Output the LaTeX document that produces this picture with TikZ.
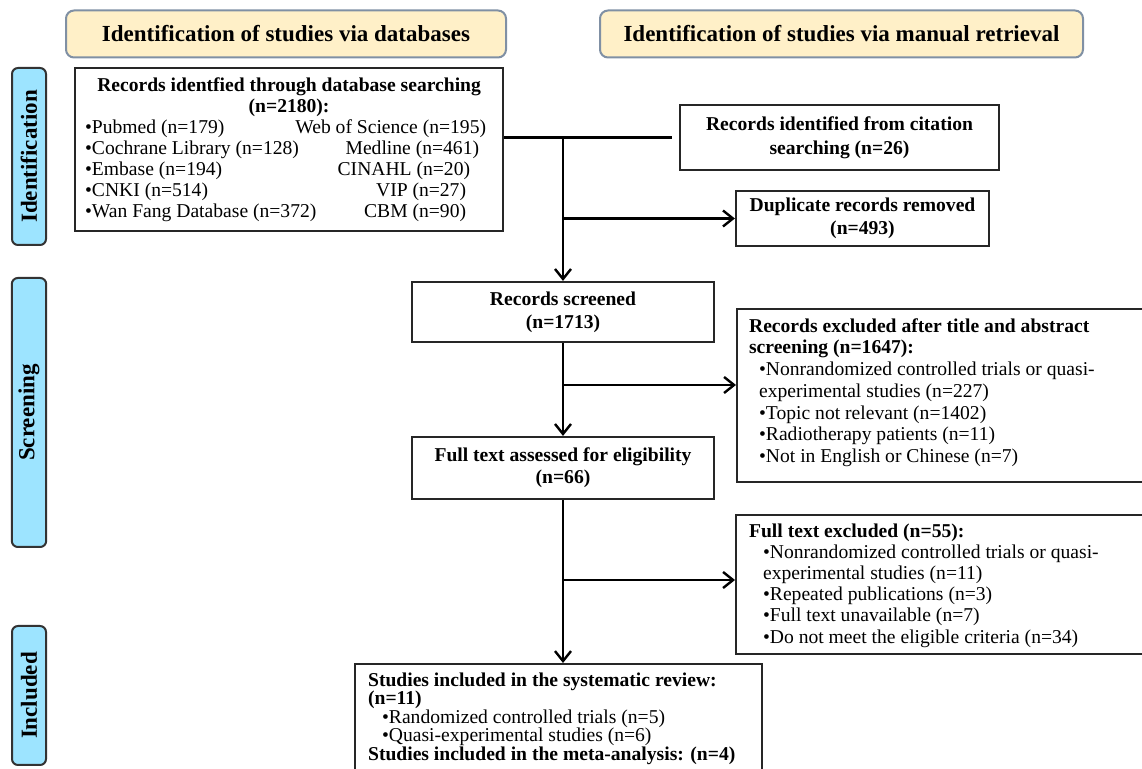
\documentclass[tikz,border=0pt]{standalone}
\usepackage{fontspec}
\setmainfont{Liberation Serif}
\usetikzlibrary{arrows.meta}

\definecolor{hdrfill}{HTML}{FFF0C8}
\definecolor{hdrline}{HTML}{8090A4}
\definecolor{phasefill}{HTML}{9DE4FF}

\begin{document}
\begin{tikzpicture}[x=0.5pt,y=-0.5pt,
  headbox/.style={draw=hdrline, fill=hdrfill, line width=1pt, rounded corners=4pt,
    font=\fontsize{11.5}{13}\selectfont\bfseries},
  phasebar/.style={draw=black!80, fill=phasefill, line width=1pt, rounded corners=3pt,
    rotate=90, minimum height=17pt, font=\fontsize{11.5}{13}\selectfont\bfseries},
  flowbox/.style={draw=black!85, line width=1.1pt},
  conn/.style={line width=1.2pt},
  arr/.style={conn, -{Straight Barb[length=5pt,width=8pt]}}]
\clip (0,0) rectangle (1142,769);
\useasboundingbox (0,0) rectangle (1142,769);

% column headers
\node[headbox, minimum width=220pt, minimum height=23.5pt] (hdrdb) at (286,34)
  {Identification of studies via databases};
\node[headbox, minimum width=241.5pt, minimum height=23.5pt] (hdrman) at (841.5,34)
  {Identification of studies via manual retrieval};

% phases
\node[phasebar, minimum width=88.5pt] (idph) at (29,156.5) {Identification};
\node[phasebar, minimum width=134.5pt] (scrph) at (29,412.5) {Screening};
\node[phasebar, minimum width=69.5pt] (incph) at (29,695.5) {Included};

% identification
\node[flowbox, anchor=north west, inner xsep=5pt, inner ysep=4.7pt] (dbrec) at (74,67)
  {\parbox[c][72.1pt][t]{204pt}{\fontsize{9.8}{10.5}\selectfont
   {\centering\bfseries Records identfied through database searching\\(n=2180):\par}
   •Pubmed (n=179)\hfill Web of Science (n=195)\hspace*{3.5pt}\\
   •Cochrane Library (n=128)\hfill Medline (n=461)\hspace*{7pt}\\
   •Embase (n=194)\hfill CINAHL (n=20)\hspace*{11.5pt}\\
   •CNKI (n=514)\hfill VIP (n=27)\hspace*{13.5pt}\\
   •Wan Fang Database (n=372)\hfill CBM (n=90)\hspace*{13.5pt}\par}};
\node[flowbox, minimum width=159.5pt, minimum height=32.5pt, align=center,
  font=\fontsize{9.8}{12}\selectfont\bfseries] (citrec) at (839.5,137.5)
  {Records identified from citation\\searching (n=26)};
\node[flowbox, minimum width=126.5pt, minimum height=27.5pt, align=center,
  font=\fontsize{9.8}{11.5}\selectfont\bfseries] (dupl) at (862.5,218.5)
  {Duplicate records removed\\(n=493)};

% screening
\node[flowbox, minimum width=151pt, minimum height=30pt, align=center,
  font=\fontsize{9.8}{11.5}\selectfont\bfseries] (screened) at (563,312)
  {Records screened\\(n=1713)};
\node[flowbox, anchor=north west, inner xsep=6pt, inner ysep=4.7pt] (excl1) at (736,308)
  {\parbox[c][77.1pt][t]{200pt}{\raggedright\fontsize{9.8}{10.85}\selectfont
   {\bfseries Records excluded after title and abstract\\screening (n=1647):}\\
   \hspace*{5pt}•Nonrandomized controlled trials or quasi-\\
   \hspace*{5pt}experimental studies (n=227)\\
   \hspace*{5pt}•Topic not relevant (n=1402)\\
   \hspace*{5pt}•Radiotherapy patients (n=11)\\
   \hspace*{5pt}•Not in English or Chinese (n=7)\par}};
\node[flowbox, minimum width=151pt, minimum height=31pt, align=center,
  font=\fontsize{9.8}{11}\selectfont\bfseries] (fulltext) at (563,468)
  {Full text assessed for eligibility\\(n=66)};
\node[flowbox, anchor=north west, inner xsep=6.5pt, inner ysep=4.2pt] (excl2) at (735,514)
  {\parbox[c][61.1pt][t]{200pt}{\raggedright\fontsize{9.8}{10.6}\selectfont
   {\bfseries Full text excluded (n=55):}\\
   \hspace*{7pt}•Nonrandomized controlled trials or quasi-\\
   \hspace*{7pt}experimental studies (n=11)\\
   \hspace*{7pt}•Repeated publications (n=3)\\
   \hspace*{7pt}•Full text unavailable (n=7)\\
   \hspace*{7pt}•Do not meet the eligible criteria (n=34)\par}};

% included
\node[flowbox, anchor=north west, inner xsep=6.5pt, inner ysep=4.2pt] (incl) at (354,663)
  {\parbox[c][55.1pt][t]{190.5pt}{\raggedright\fontsize{9.8}{9.3}\selectfont
   {\bfseries Studies included in the systematic review:\\(n=11)}\\
   \hspace*{7pt}•Randomized controlled trials (n=5)\\
   \hspace*{7pt}•Quasi-experimental studies (n=6)\\
   {\bfseries Studies included in the meta-analysis: (n=4)}\par}};

% connectors
\draw[conn, shorten >=3.5pt] (dbrec.east |- citrec.west) -- (citrec.west);
\coordinate (jn1) at (screened.north |- citrec.west);
\draw[arr] (jn1) -- (screened.north);
\draw[arr] (jn1 |- dupl.west) -- (dupl.west);
\draw[arr] (screened.south) -- (fulltext.north);
\coordinate (jn2) at (563,385);
\draw[arr] (jn2) -- (jn2 -| excl1.west);
\draw[arr] (fulltext.south) -- (fulltext.south |- incl.north);
\coordinate (jn3) at (563,580);
\draw[arr] (jn3) -- (jn3 -| excl2.west);
\end{tikzpicture}
\end{document}
